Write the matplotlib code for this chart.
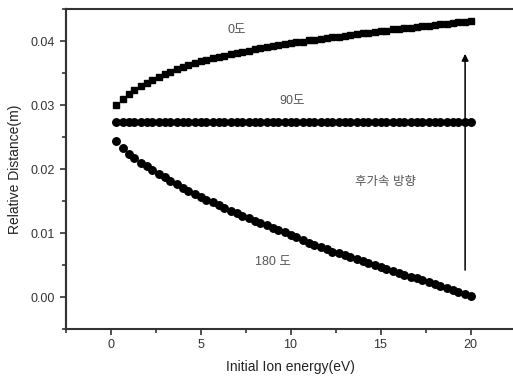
import matplotlib
matplotlib.use("Agg")
import matplotlib.pyplot as plt
from matplotlib.ticker import MultipleLocator

plt.rcParams['font.family'] = ['Liberation Sans', 'Noto Sans CJK KR', 'DejaVu Sans']

# initial ion energy (eV), one point every 1/3 eV
energy = [0.33, 0.67, 1.0, 1.33, 1.67, 2.0, 2.33, 2.67, 3.0, 3.33,
          3.67, 4.0, 4.33, 4.67, 5.0, 5.33, 5.67, 6.0, 6.33, 6.67,
          7.0, 7.33, 7.67, 8.0, 8.33, 8.67, 9.0, 9.33, 9.67, 10.0,
          10.33, 10.67, 11.0, 11.33, 11.67, 12.0, 12.33, 12.67, 13.0, 13.33,
          13.67, 14.0, 14.33, 14.67, 15.0, 15.33, 15.67, 16.0, 16.33, 16.67,
          17.0, 17.33, 17.67, 18.0, 18.33, 18.67, 19.0, 19.33, 19.67, 20.0]

# relative distance (m)
deg0 = [0.0300, 0.0310, 0.0317, 0.0323, 0.0329, 0.0334, 0.0339, 0.0344, 0.0348, 0.0352,
        0.0356, 0.0359, 0.0362, 0.0365, 0.0368, 0.0370, 0.0373, 0.0375, 0.0377, 0.0379,
        0.0381, 0.0383, 0.0385, 0.0387, 0.0389, 0.0390, 0.0392, 0.0394, 0.0395, 0.0397,
        0.0398, 0.0399, 0.0401, 0.0402, 0.0403, 0.0405, 0.0406, 0.0407, 0.0408, 0.0410,
        0.0411, 0.0412, 0.0413, 0.0414, 0.0415, 0.0416, 0.0418, 0.0419, 0.0420, 0.0421,
        0.0422, 0.0423, 0.0424, 0.0425, 0.0426, 0.0427, 0.0428, 0.0429, 0.0430, 0.0432]
deg90 = [0.0273] * 60
deg180 = [0.0243, 0.0233, 0.0224, 0.0217, 0.0210, 0.0204, 0.0198, 0.0192, 0.0187, 0.0181,
          0.0176, 0.0171, 0.0166, 0.0161, 0.0157, 0.0152, 0.0148, 0.0143, 0.0139, 0.0135,
          0.0131, 0.0127, 0.0123, 0.0119, 0.0115, 0.0112, 0.0108, 0.0104, 0.0101, 0.0097,
          0.0093, 0.0089, 0.0085, 0.0082, 0.0078, 0.0075, 0.0071, 0.0068, 0.0065, 0.0062,
          0.0059, 0.0056, 0.0053, 0.0050, 0.0047, 0.0044, 0.0041, 0.0038, 0.0035, 0.0032,
          0.0029, 0.0026, 0.0023, 0.0020, 0.0017, 0.0014, 0.0011, 0.0008, 0.0004, 0.0001]

fig = plt.figure(figsize=(5.13, 3.78), dpi=100)
ax = fig.add_axes([65.5 / 513, 49 / 378, 450 / 513, 320 / 378])

ax.plot(energy, deg0, 's', color='black', ms=5.0, mec='black')
ax.plot(energy, deg90, 'o', color='black', ms=5.4, mec='black')
ax.plot(energy, deg180, 'o', color='black', ms=5.4, mec='black')

ax.set_xlim(-2.5, 22.5)
ax.set_ylim(-0.005, 0.045)
ax.xaxis.set_major_locator(MultipleLocator(5))
ax.xaxis.set_minor_locator(MultipleLocator(2.5))
ax.yaxis.set_major_locator(MultipleLocator(0.01))
ax.yaxis.set_minor_locator(MultipleLocator(0.005))
ax.yaxis.set_major_formatter(plt.FormatStrFormatter('%.2f'))

for s in ax.spines.values():
    s.set_visible(True)
    s.set_color('#333333')
    s.set_linewidth(1.5)
    s.set_zorder(5)
# left axis line drawn again so it always shows
ax.axvline(-2.5, color='#333333', lw=1.5, clip_on=False, zorder=6)
ax.tick_params(which='both', direction='out', colors='#333333', labelsize=9,
               top=False, right=False)
ax.tick_params(which='major', length=4, width=1.2)
ax.tick_params(which='minor', length=3, width=1.2)

ax.set_xlabel('Initial Ion energy(eV)', fontsize=10, color='#222222', labelpad=6)
ax.set_ylabel('Relative Distance(m)', fontsize=10, color='#222222', labelpad=6)

txt = dict(fontsize=9, color='#555555', ha='center', va='center')
ax.text(7.0, 0.0417, '0도', **txt)
ax.text(10.1, 0.0307, '90도', **txt)
ax.text(15.3, 0.0180, '후가속 방향', **txt)
ax.text(9.0, 0.0054, '180 도', **txt)

ax.annotate('', xy=(19.7, 0.0380), xytext=(19.7, 0.0042),
            arrowprops=dict(arrowstyle='-|>', color='black', lw=1.1,
                            mutation_scale=10, shrinkA=0, shrinkB=0))

fig.savefig('out.png', dpi=100)
